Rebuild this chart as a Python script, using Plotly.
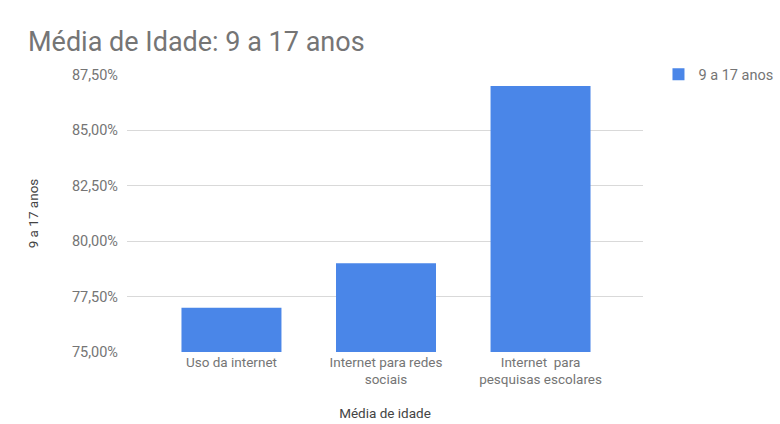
import plotly.graph_objects as go

categories = ["Uso da internet", "Internet para redes<br>sociais", "Internet  para<br>pesquisas escolares"]
values = [77.0, 79.0, 87.0]
series_name = "9 a 17 anos"
tick_vals = [75.0, 77.5, 80.0, 82.5, 85.0, 87.5]
tick_text = ["75,00%", "77,50%", "80,00%", "82,50%", "85,00%", "87,50%"]

fig = go.Figure()
fig.add_trace(go.Bar(
    x=list(range(len(categories))), y=values, name=series_name,
    marker=dict(color="#4a86e8", line=dict(width=0)),
    width=0.647,
))

fig.update_layout(
    width=780, height=424,
    margin=dict(l=127, r=137, t=75, b=72, autoexpand=False),
    paper_bgcolor="white", plot_bgcolor="white",
    font=dict(family="Roboto, Arial, sans-serif", color="#757575", size=13),
    title=dict(text="Média de Idade: 9 a 17 anos", x=28/780, xanchor="left",
               y=1-42/424, yanchor="middle",
               font=dict(size=27, color="#757575")),
    showlegend=True,
    legend=dict(x=1.03, y=1.06, xanchor="left", yanchor="top",
                font=dict(size=14.5, color="#757575"), bgcolor="rgba(0,0,0,0)"),
    xaxis=dict(range=[-0.676, 2.663], tickvals=list(range(len(categories))),
               ticktext=categories, showgrid=False, zeroline=False, automargin=False,
               showline=False, ticks="", tickfont=dict(size=13.5, color="#757575"),
               title=dict(text="Média de idade", font=dict(size=13.5, color="#444444"), standoff=22)),
    yaxis=dict(range=[75, 87.5], tickvals=tick_vals, ticktext=tick_text, automargin=False,
               showgrid=True, gridcolor="#d9d9d9", zeroline=False, showline=False,
               ticks="", ticklen=0, ticklabelstandoff=8, tickfont=dict(size=14.5, color="#757575"),
               title=dict(text="9 a 17 anos", font=dict(size=13.5, color="#444444"), standoff=30)),
    bargap=0.35,
)
fig.write_html("out.html")
